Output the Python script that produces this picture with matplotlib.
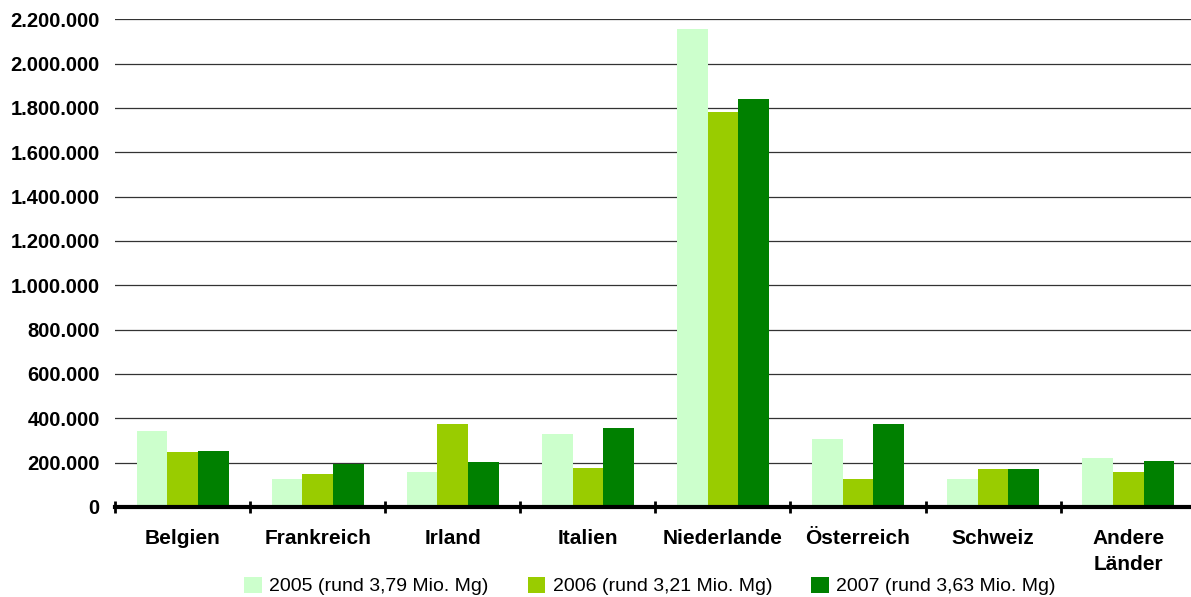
import matplotlib
matplotlib.use("Agg")
import matplotlib.pyplot as plt
from matplotlib.ticker import FuncFormatter, FixedLocator
from matplotlib.patches import Patch
import numpy as np

categories = ["Belgien", "Frankreich", "Irland", "Italien", "Niederlande",
              "Österreich", "Schweiz", "Andere\nLänder"]
series_labels = ["2005 (rund 3,79 Mio. Mg)", "2006 (rund 3,21 Mio. Mg)",
                 "2007 (rund 3,63 Mio. Mg)"]
v2005 = [343000, 126000, 158000, 329000, 2156000, 307000, 126000, 221000]
v2006 = [248000, 149000, 374000, 176000, 1782000, 126000, 171000, 158000]
v2007 = [253000, 194000, 203000, 356000, 1841000, 374000, 171000, 207000]
yticks = list(range(0, 2200001, 200000))

colors = ["#CCFFCC", "#99CC00", "#008000"]

plt.rcParams['font.family'] = ['Liberation Sans', 'DejaVu Sans']

fig = plt.figure(figsize=(11.91, 5.97), dpi=100)
ax = fig.add_axes([115/1191, 1 - 507/597, 1 - 115/1191 + 0.004, (507 - 19.3)/597])

x = np.arange(len(categories))
w = 0.227
for i, (vals, c) in enumerate(zip([v2005, v2006, v2007], colors)):
    ax.bar(x + (i - 1) * w, vals, width=w, color=c, edgecolor='none', zorder=3)

ax.set_xlim(-0.5, len(categories) - 0.5)
ax.set_ylim(0, 2200000)
ax.set_yticks(yticks)
ax.yaxis.set_major_formatter(FuncFormatter(lambda v, p: f"{v:,.0f}".replace(",", ".")))
ax.yaxis.grid(True, color='#333333', linewidth=0.9, zorder=0)
ax.tick_params(axis='y', length=0, pad=11, labelsize=14.5)
for t in ax.get_yticklabels():
    t.set_fontweight('bold')

ax.xaxis.set_major_locator(FixedLocator(np.arange(-0.5, len(categories), 1.0)))
ax.xaxis.set_major_formatter(FuncFormatter(lambda v, p: ""))
ax.xaxis.set_minor_locator(FixedLocator(x))
ax.set_xticklabels(categories, minor=True)
ax.tick_params(axis='x', which='major', direction='inout', length=8, width=2, color='black')
ax.tick_params(axis='x', which='minor', length=0, pad=16, labelsize=15)
for t in ax.get_xticklabels(minor=True):
    t.set_fontweight('bold')
    t.set_linespacing(1.45)

for s in ['left', 'right', 'top']:
    ax.spines[s].set_visible(False)
ax.spines['bottom'].set_linewidth(3)
ax.spines['bottom'].set_zorder(4)

handles = [Patch(facecolor=c, edgecolor='none') for c in colors]
fig.legend(handles, series_labels, loc='center', bbox_to_anchor=(650/1191, 1 - 586/597),
           ncol=3, frameon=False, fontsize=14, handlelength=0.9, handleheight=0.9,
           handletextpad=0.4, columnspacing=2.0, borderpad=0)

fig.savefig("out.png", dpi=100)
